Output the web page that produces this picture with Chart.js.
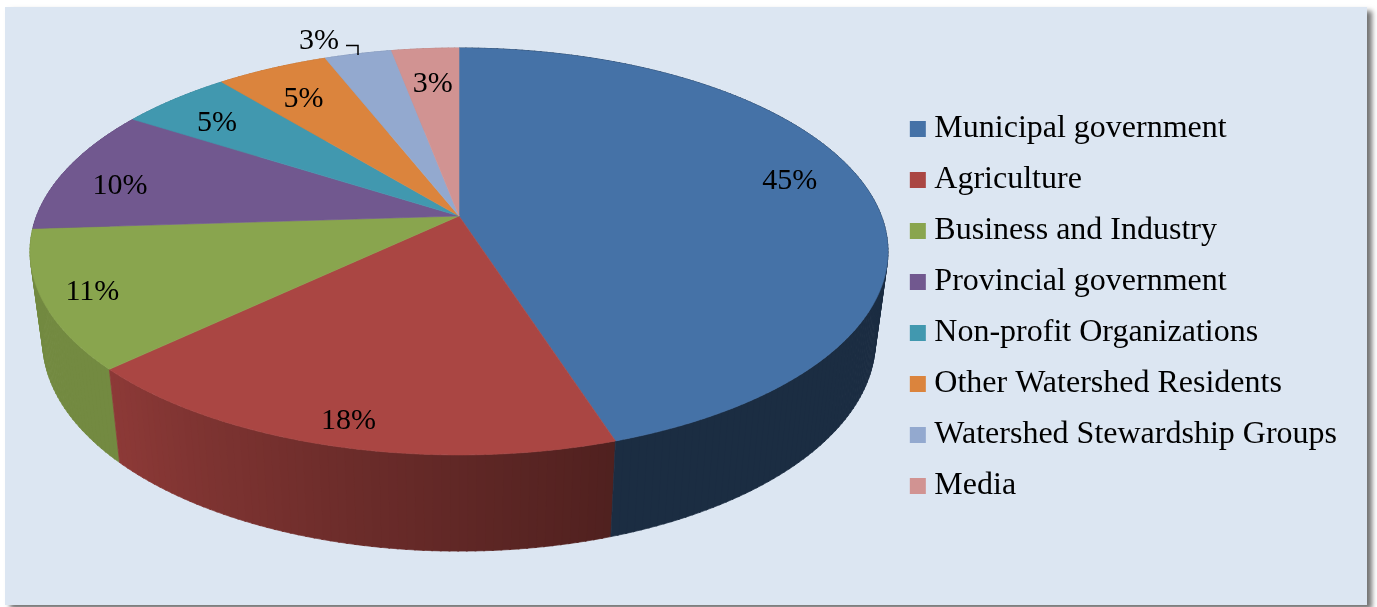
<!DOCTYPE html>
<html lang="en">
<head>
<meta charset="UTF-8">
<title>Stakeholder groups</title>
<style>
    html, body { margin: 0; padding: 0; background: #fff; overflow: hidden; }
    #panel {
        position: absolute; left: 5px; top: 7px; width: 1362px; height: 598px;
        background: #dce6f2; box-shadow: 5px 4px 5px rgba(0,0,0,0.55);
    }
    #chart { position: absolute; left: 0; top: 0; }
</style>
<script src="https://cdn.jsdelivr.net/npm/chart.js"></script>
</head>
<body>
<div id="panel"></div>
<canvas id="chart" width="1377" height="607"></canvas>
<script>
const categories = ['Municipal government', 'Agriculture', 'Business and Industry', 'Provincial government',
    'Non-profit Organizations', 'Other Watershed Residents', 'Watershed Stewardship Groups', 'Media'];
const shares = [45, 18, 11, 10, 5, 5, 3, 3];
const colors = ['#4572a7', '#aa4643', '#89a54e', '#71588f', '#4198af', '#db843d', '#93a9cf', '#d19392'];

// where each % label sits: fraction of the radius, and degrees away from the middle of its slice
const labelRadius = [0.83, 0.9, 0.89, 0.845, 0.82, 0.79, 1.135, 0.775];
const labelTurn = [-4.5, 0, 0, -3, -1.4, -1, -4.2, 0];

// perspective of the tilted disc, u/v are on the unit circle, v = 1 is the far edge
const k = 0.1744;
const topFace = { c: 422.4, a: -159.6, b: 216 };
const bottomFace = { c: 410, a: -151, b: 304 };
const centerX = 459;

function project(face, u, v) {
    const w = 1 + k * v;
    return { x: centerX + face.c * u / w, y: (face.a * v + face.b) / w };
}

// canvas angle of the arc element -> point on a face
function onFace(face, angle, r) {
    return project(face, Math.cos(angle) * r, -Math.sin(angle) * r);
}

function shade(hex, f) {
    const n = parseInt(hex.slice(1), 16);
    return `rgb(${((n >> 16) & 255) * f | 0},${((n >> 8) & 255) * f | 0},${(n & 255) * f | 0})`;
}

// side wall gets darker going round from the left to the front right
function wallFactor(angle) {
    const deg = ((angle + Math.PI / 2) * 180 / Math.PI + 360) % 360;
    if (deg < 162) return 0.4;
    if (deg > 226.8) return 0.84;
    return 0.47 + (deg - 162) / 64.8 * 0.36;
}

const disc3d = {
    id: 'disc3d',
    beforeDatasetDraw(chart, args) {
        const ctx = chart.ctx;
        const arcs = args.meta.data;
        const step = Math.PI / 180;

        // back slices first so the nearer walls cover them
        arcs.slice().reverse().forEach(arc => {
            const i = arc.$context.dataIndex;
            for (let a = arc.startAngle; a < arc.endAngle; a += step) {
                const b = Math.min(a + step * 1.2, arc.endAngle);
                const t1 = onFace(topFace, a, 1), t2 = onFace(topFace, b, 1);
                const b1 = onFace(bottomFace, a, 1), b2 = onFace(bottomFace, b, 1);
                const fill = shade(colors[i], wallFactor((a + b) / 2));
                ctx.fillStyle = fill;
                ctx.strokeStyle = fill;
                ctx.lineWidth = 0.7;
                ctx.beginPath();
                ctx.moveTo(t1.x, t1.y);
                ctx.lineTo(t2.x, t2.y);
                ctx.lineTo(b2.x, b2.y);
                ctx.lineTo(b1.x, b1.y);
                ctx.closePath();
                ctx.fill();
                ctx.stroke();
            }
        });

        arcs.forEach((arc, i) => {
            const apex = project(topFace, 0, 0);
            ctx.fillStyle = colors[i];
            ctx.strokeStyle = colors[i];
            ctx.lineWidth = 0.6;
            ctx.beginPath();
            ctx.moveTo(apex.x, apex.y);
            for (let a = arc.startAngle; a < arc.endAngle; a += step / 2) {
                const p = onFace(topFace, a, 1);
                ctx.lineTo(p.x, p.y);
            }
            const end = onFace(topFace, arc.endAngle, 1);
            ctx.lineTo(end.x, end.y);
            ctx.closePath();
            ctx.fill();
            ctx.stroke();
        });
        return false;
    },
    afterDatasetsDraw(chart) {
        const ctx = chart.ctx;
        const arcs = chart.getDatasetMeta(0).data;
        ctx.save();
        ctx.font = '30px "Liberation Serif"';
        ctx.fillStyle = '#000';
        ctx.textAlign = 'center';
        ctx.textBaseline = 'middle';
        arcs.forEach((arc, i) => {
            const mid = (arc.startAngle + arc.endAngle) / 2 + labelTurn[i] * Math.PI / 180;
            const p = onFace(topFace, mid, labelRadius[i]);
            ctx.fillText(shares[i] + '%', p.x + 1, p.y + 2);
        });
        // leader for the label that sits outside the disc
        ctx.strokeStyle = '#000';
        ctx.lineWidth = 1.5;
        ctx.beginPath();
        ctx.moveTo(346, 45.5);
        ctx.lineTo(358, 45.5);
        ctx.lineTo(358, 55);
        ctx.stroke();
        ctx.restore();
    }
};

new Chart(document.getElementById('chart'), {
    type: 'pie',
    data: {
        labels: categories,
        datasets: [{ data: shares, backgroundColor: colors, borderWidth: 0 }]
    },
    options: {
        responsive: false,
        animation: false,
        layout: { padding: { top: 8, right: 30, bottom: 0 } },
        plugins: {
            tooltip: { enabled: false },
            legend: {
                position: 'right',
                labels: {
                    usePointStyle: true,
                    pointStyle: 'rect',
                    boxWidth: 1,
                    boxHeight: 16,
                    padding: 19,
                    color: '#000',
                    font: { family: '"Liberation Serif"', size: 32 }
                }
            }
        }
    },
    plugins: [disc3d]
});
</script>
</body>
</html>
